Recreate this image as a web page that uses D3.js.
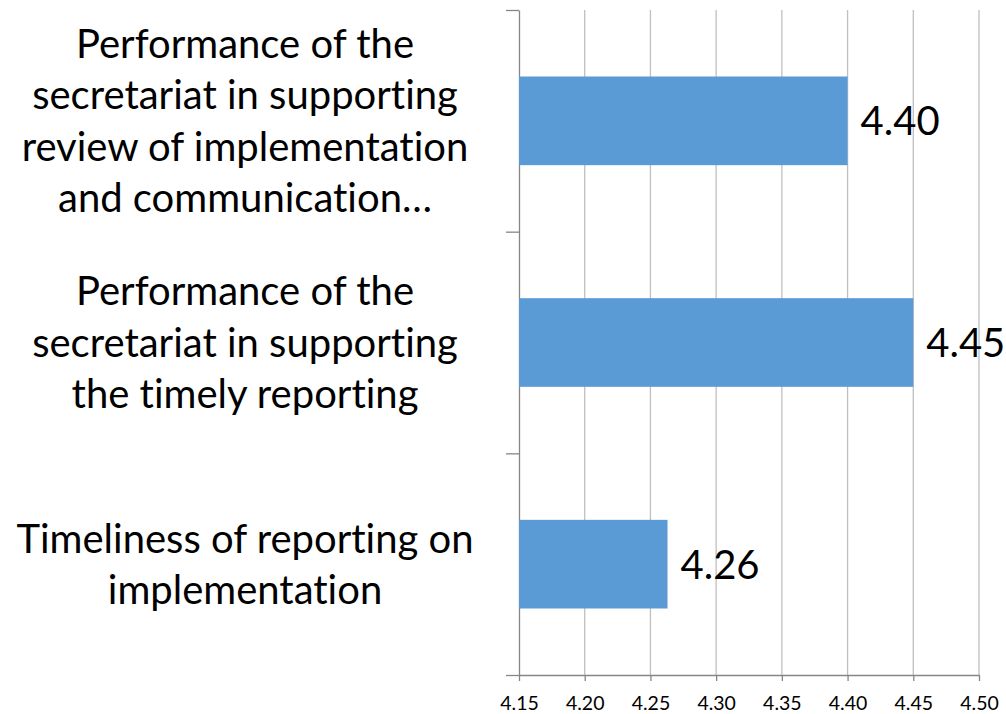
<!DOCTYPE html>
<html>
<head>
<meta charset="utf-8">
<script src="https://cdn.jsdelivr.net/npm/d3@7"></script>
<style>
  body { margin: 0; background: #fff; }
  text { font-family: Lato, "Open Sans", sans-serif; fill: #000; font-variant-ligatures: none; font-feature-settings: "liga" 0, "clig" 0; }
</style>
</head>
<body>
<div id="chart"></div>
<script>
var categories = [
    "Performance of the\nsecretariat in supporting\nreview of implementation\nand communication\u2026",
    "Performance of the\nsecretariat in supporting\nthe timely reporting",
    "Timeliness of reporting on\nimplementation"
];
var values = [4.40, 4.45, 4.263];
var valueLabels = ["4.40", "4.45", "4.26"];
var xTicks = [4.15, 4.20, 4.25, 4.30, 4.35, 4.40, 4.45, 4.50];

var wt = 1006;
var ht = 714;
var margin = {top: 10, right: 27, bottom: 39, left: 519};
var width = wt - margin.left - margin.right;
var height = ht - margin.top - margin.bottom;

var svg = d3.select("#chart").append("svg")
    .attr("width", wt)
    .attr("height", ht);
var g = svg.append("g")
    .attr("transform", "translate(" + margin.left + "," + margin.top + ")");

var x = d3.scaleLinear()
    .domain([4.15, 4.50])
    .range([0, width]);

var y = d3.scaleBand()
    .domain(categories)
    .range([0, height])
    .paddingInner(0.6)
    .paddingOuter(0.3);

// vertical gridlines
g.selectAll(".grid")
    .data(xTicks.slice(1))
    .enter().append("line")
    .attr("class", "grid")
    .attr("x1", function (d) { return x(d); })
    .attr("x2", function (d) { return x(d); })
    .attr("y1", 0)
    .attr("y2", height)
    .attr("stroke", "#bfbfbf")
    .attr("stroke-width", 1.3);

// x axis
var xAxis = g.append("g")
    .attr("transform", "translate(0," + height + ")")
    .call(d3.axisBottom(x)
        .tickValues(xTicks)
        .tickSize(6)
        .tickSizeOuter(0)
        .tickFormat(d3.format(".2f")));
xAxis.select(".domain").attr("stroke", "#868686").attr("stroke-width", 1.3);
xAxis.selectAll(".tick line").attr("stroke", "#868686").attr("stroke-width", 1.3);
xAxis.selectAll(".tick text")
    .attr("y", 21)
    .attr("dy", "0.71em")
    .style("font-size", "19.5px")
    .style("font-family", "Lato, sans-serif")
    .attr("fill", "#000");

// y axis with ticks at category boundaries
var yEdge = d3.scaleLinear().domain([0, categories.length]).range([0, height]);
var yAxis = g.append("g")
    .call(d3.axisLeft(yEdge)
        .ticks(categories.length)
        .tickSize(13)
        .tickSizeOuter(0)
        .tickFormat(""));
yAxis.select(".domain").attr("stroke", "#868686").attr("stroke-width", 1.3);
yAxis.selectAll(".tick line").attr("stroke", "#868686").attr("stroke-width", 1.3);

// bars
g.selectAll(".bar")
    .data(values)
    .enter().append("rect")
    .attr("class", "bar")
    .attr("x", 0)
    .attr("y", function (d, i) { return y(categories[i]); })
    .attr("width", function (d) { return x(d) - x(4.15); })
    .attr("height", y.bandwidth())
    .attr("fill", "#5b9bd5");

// value labels
g.selectAll(".val")
    .data(values)
    .enter().append("text")
    .attr("class", "val")
    .attr("x", function (d) { return x(d) + 13; })
    .attr("y", function (d, i) { return y(categories[i]) + y.bandwidth() / 2; })
    .attr("dy", "0.36em")
    .style("font-size", "40px")
    .text(function (d, i) { return valueLabels[i]; });

// category labels, wrapped
var lineH = 51.5;
categories.forEach(function (c) {
    var lines = c.split("\n");
    var cy = y(c) + y.bandwidth() / 2;
    var t = g.append("text")
        .attr("text-anchor", "middle")
        .style("font-size", "40px");
    lines.forEach(function (l, j) {
        t.append("tspan")
            .attr("x", 245 - margin.left)
            .attr("y", cy + (j - (lines.length - 1) / 2) * lineH)
            .attr("dy", "0.36em")
            .text(l);
    });
});
</script>
</body>
</html>
